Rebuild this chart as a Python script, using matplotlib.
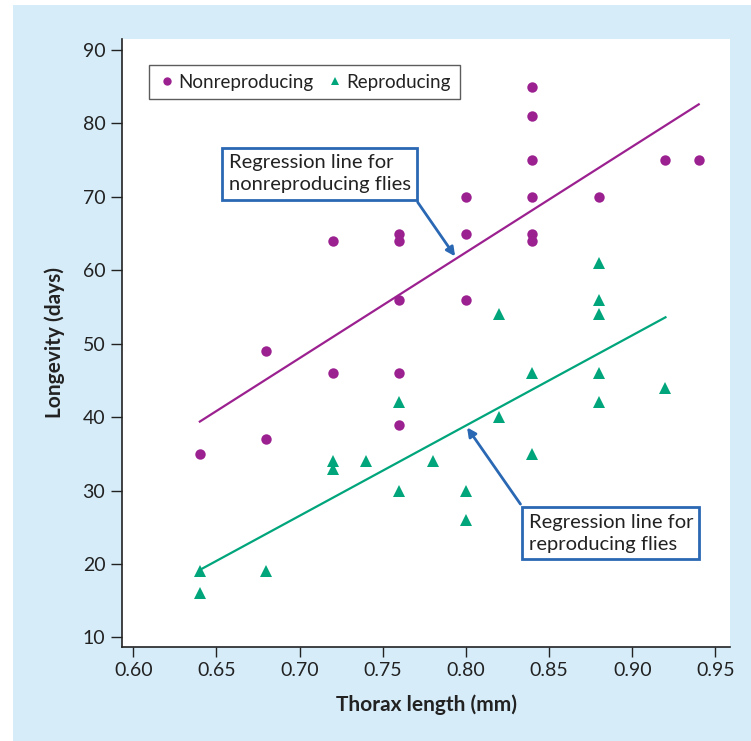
import matplotlib
matplotlib.use('Agg')
import matplotlib.pyplot as plt
from matplotlib.patches import Rectangle

# fruit fly data
nonrep_thorax = [0.64, 0.68, 0.68, 0.72, 0.72, 0.76, 0.76, 0.76, 0.76, 0.76,
                 0.80, 0.80, 0.80, 0.84, 0.84, 0.84, 0.84, 0.84, 0.84, 0.88,
                 0.92, 0.94]
nonrep_longevity = [35, 49, 37, 64, 46, 65, 64, 56, 46, 39,
                    70, 65, 56, 85, 81, 75, 70, 65, 64, 70,
                    75, 75]

rep_thorax = [0.64, 0.64, 0.68, 0.72, 0.72, 0.74, 0.76, 0.76, 0.78, 0.80,
              0.80, 0.82, 0.82, 0.84, 0.84, 0.88, 0.88, 0.88, 0.88, 0.88,
              0.92]
rep_longevity = [19, 16, 19, 34, 33, 34, 42, 30, 34, 30,
                 26, 54, 40, 46, 35, 61, 56, 54, 46, 42,
                 44]

# regression line end points
nonrep_fit_x = [0.64, 0.94]
nonrep_fit_y = [39.4, 82.6]
rep_fit_x = [0.64, 0.92]
rep_fit_y = [19.2, 53.6]

x_ticks = [0.60, 0.65, 0.70, 0.75, 0.80, 0.85, 0.90, 0.95]
y_ticks = [10, 20, 30, 40, 50, 60, 70, 80, 90]

purple = '#9c2190'
green = '#00a57c'
blue = '#2a68b4'
bg = '#d6ecf9'

plt.rcParams['font.family'] = ['Lato', 'DejaVu Sans']

fig = plt.figure(figsize=(7.51, 7.41), dpi=100)
fig.patch.set_facecolor('white')
# light blue panel behind the chart
fig.patches.append(Rectangle((13/751, 0), 1 - 13/751, 736/741,
                             transform=fig.transFigure, facecolor=bg,
                             edgecolor='none', zorder=-10))

ax = fig.add_axes([122/751, 94/741, 608/751, 608/741])
ax.set_facecolor('white')

ax.plot(nonrep_fit_x, nonrep_fit_y, color=purple, lw=1.6, zorder=2)
ax.plot(rep_fit_x, rep_fit_y, color=green, lw=1.6, zorder=2)

ax.plot(nonrep_thorax, nonrep_longevity, 'o', color=purple, ms=7.5,
        mew=0, label='Nonreproducing', zorder=3)
ax.plot(rep_thorax, rep_longevity, '^', color=green, ms=8,
        mew=0, label='Reproducing', zorder=3)

ax.set_xlim(0.5932, 0.9588)
ax.set_ylim(8.7, 91.5)
ax.set_xticks(x_ticks)
ax.set_xticklabels(['%.2f' % v for v in x_ticks])
ax.set_yticks(y_ticks)

for s in ['top', 'right']:
    ax.spines[s].set_visible(False)
for s in ['left', 'bottom']:
    ax.spines[s].set_color('#222222')
    ax.spines[s].set_linewidth(1.2)

ax.tick_params(axis='y', length=8, width=1, color='#222222',
               labelsize=14, labelcolor='#222222', pad=4)
ax.tick_params(axis='x', length=7, width=1, color='#222222',
               labelsize=14, labelcolor='#222222', pad=4)

label_font = dict(family=['Liberation Sans Narrow', 'Lato'],
                  weight='bold', size=15, color='#222222')
ax.set_xlabel('Thorax length (mm)', labelpad=11, **label_font)
ax.set_ylabel('Longevity (days)', labelpad=13, **label_font)

leg = ax.legend(loc='upper left', bbox_to_anchor=(0.044, 0.957), ncol=2,
                frameon=True, fancybox=False, borderaxespad=0,
                fontsize=13.5, handletextpad=0.1, columnspacing=0.7,
                handlelength=1.0, borderpad=0.45, markerscale=0.8)
leg.get_frame().set_edgecolor('#333333')
leg.get_frame().set_linewidth(1.0)
for t in leg.get_texts():
    t.set_color('#222222')

box = dict(boxstyle='square,pad=0.32', facecolor='white', edgecolor=blue,
           linewidth=2)
ax.text(0.7122, 73.15, 'Regression line for\nnonreproducing flies',
        ha='center', va='center', fontsize=14.5, color='#222222',
        multialignment='left', bbox=box, zorder=5, linespacing=1.35)
ax.text(0.8871, 24.2, 'Regression line for\nreproducing flies',
        ha='center', va='center', fontsize=14.5, color='#222222',
        multialignment='left', bbox=box, zorder=5, linespacing=1.35)

arrow = dict(arrowstyle='-|>', color=blue, lw=2, mutation_scale=13,
             shrinkA=0, shrinkB=0)
ax.annotate('', xy=(0.7935, 61.9), xytext=(0.7710, 69.27),
            arrowprops=arrow, zorder=4)
ax.annotate('', xy=(0.8007, 38.6), xytext=(0.8328, 28.16),
            arrowprops=arrow, zorder=4)

fig.savefig('out.png', dpi=100, facecolor=fig.get_facecolor())
